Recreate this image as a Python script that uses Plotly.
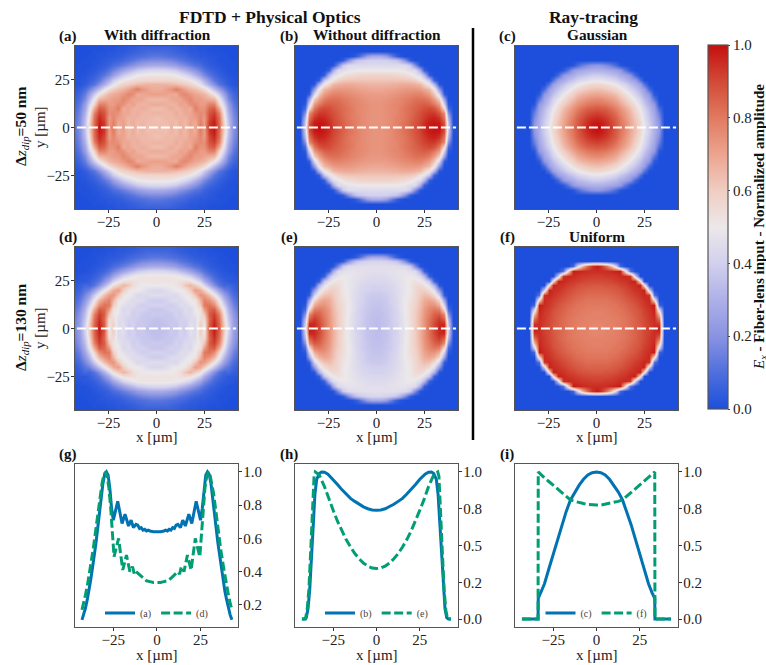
import plotly.graph_objects as go

W, H = 766, 665
FONT = "Liberation Serif"
BLUE, GREEN = "#0173b2", "#029e73"

grid_half = [2.5 * i for i in range(18)]
N = 18

# Quarter tables (percent of amplitude): rows y=0..42.5, columns x=0..42.5.
halo_rows = [
 [43,43,42,40,38,34,30,25,20,15,11,7,5,3,2,1,1,0],
 [28,28,27,25,23,20,17,14,11,9,6,4,3,2,1,1,1,0],
 [18,18,17,16,14,12,10,8,6,5,4,3,2,1,1,1,0,0],
 [12,12,11,10,9,8,7,5,4,3,3,2,2,1,1,0,0,0],
 [8,8,8,7,6,5,4,3,3,2,2,1,1,1,0,0,0,0],
 [5,5,5,5,4,3,3,2,2,1,1,1,0,0,0,0,0,0],
]
panel_a = [
 [64,64,63,66,64,68,65,71,68,80,72,94,99,84,58,36,20,12],
 [64,64,64,66,64,68,65,71,68,79,72,93,98,83,57,36,20,12],
 [63,64,65,65,66,67,66,70,71,77,72,90,96,82,54,34,19,11],
 [66,66,65,65,68,66,69,69,74,76,75,88,92,78,50,31,17,10],
 [64,64,66,68,66,67,70,68,79,74,74,84,86,68,46,27,15,9],
 [68,68,67,66,67,71,69,75,76,72,72,78,78,58,40,24,13,7],
 [65,65,66,69,70,69,74,77,72,72,70,68,66,50,32,18,10,6],
 [71,71,70,69,68,75,77,73,70,68,66,60,52,38,24,14,8,4],
 [68,68,71,74,79,75,70,66,64,60,56,46,34,24,15,9,5,3],
 [66,66,66,65,64,62,60,58,54,47,38,28,19,11,7,4,2,1],
 [57,57,57,57,56,55,53,50,45,38,29,20,12,8,5,3,2,1],
 [52,52,52,51,50,47,43,38,31,24,17,12,8,5,3,2,1,1],
] + halo_rows
panel_d = [
 [35,35,35,38,37,41,39,46,44,60,50,88,98,85,60,42,26,18],
 [35,35,36,38,37,41,39,46,44,59,51,86,97,84,59,41,25,17],
 [35,36,37,37,39,40,41,44,45,55,55,84,95,82,56,38,24,16],
 [38,38,37,38,41,39,44,44,48,52,62,86,92,78,52,35,22,14],
 [37,37,39,41,40,41,45,43,50,53,72,84,86,68,47,31,19,12],
 [41,41,40,39,41,45,44,47,50,60,80,82,76,58,40,27,16,10],
 [39,39,41,44,45,44,47,50,52,66,78,74,66,50,32,22,13,8],
 [45,45,44,44,43,47,50,52,62,74,72,64,52,38,24,17,10,6],
 [43,43,45,48,50,50,52,60,72,68,60,48,36,24,15,12,7,4],
 [50,50,50,50,52,54,62,66,60,54,42,30,19,11,7,8,5,3],
 [52,52,52,52,52,54,55,54,48,40,29,20,12,8,5,3,3,2],
 [52,52,52,52,51,49,45,41,33,26,18,13,8,5,3,3,2,1],
] + halo_rows
panel_b = [
 [74,74,75,76,78,80,82,85,88,92,95,98,100,99,90,40,1],
 [74,74,75,76,78,80,82,85,88,91,95,98,99,98,88,38,1],
 [74,74,75,76,78,79,81,84,87,90,93,96,97,94,82,32],
 [74,74,75,76,77,79,81,83,86,89,91,93,93,88,76,20],
 [74,74,75,76,77,79,81,83,85,87,89,90,88,80,55,8],
 [74,74,75,76,77,78,80,82,84,85,86,85,80,72,40,3],
 [73,73,74,75,76,77,79,80,82,82,82,79,72,60,25],
 [72,72,72,73,74,75,76,77,78,78,76,72,62,42,4],
 [69,69,70,70,71,72,73,73,73,72,69,65,52,22],
 [66,66,66,67,67,68,68,68,67,65,58,50,30,2],
 [62,62,62,62,62,62,62,61,59,52,47,36,5],
 [58,58,58,58,57,56,55,53,48,45,32,5],
 [50,50,50,50,50,49,48,45,44,28,5],
 [44,44,44,44,44,44,44,38,18,2],
 [40,40,40,38,36,30,18,4],
 [28,28,24,15,6,2],
]
panel_e = [
 [34,35,36,39,41,45,49,54,60,67,74,82,90,96,98,42,1],
 [34,35,36,39,41,45,49,54,60,67,74,82,90,96,96,40,1],
 [34,35,36,39,42,45,49,54,60,67,74,81,88,93,86,33],
 [35,35,37,39,42,45,50,54,60,66,73,79,85,87,76,20],
 [35,36,37,39,42,46,50,54,59,65,72,77,80,78,55,8],
 [36,36,38,40,43,46,50,54,58,64,70,74,74,68,40,3],
 [37,37,38,41,43,46,50,53,57,63,68,70,67,57,25],
 [38,38,39,41,44,46,49,52,56,61,64,63,56,40,4],
 [40,40,41,42,44,46,49,51,56,59,59,55,45,22],
 [41,41,42,43,45,47,49,51,55,56,53,46,30,2],
 [43,43,43,44,46,47,49,51,53,51,46,36,5],
 [44,44,45,46,47,48,49,50,48,44,32,5],
 [46,46,46,47,47,48,48,46,44,28,5],
 [46,46,46,46,46,45,44,38,18,2],
 [42,42,41,39,36,30,18,4],
 [28,28,24,15,6,2],
]
panel_c = [
 [100,99,96,92,87,82,76,70,63,56,48,39,30,22],
 [99,98,95,91,86,81,76,69,63,56,48,39,30,21],
 [96,95,93,89,85,80,74,68,61,54,46,37,29,18],
 [92,91,89,86,82,77,72,66,59,52,44,35,27,14],
 [87,86,85,82,78,74,69,63,56,49,41,33,25,8],
 [82,81,80,77,74,70,64,59,53,45,37,29,22,2],
 [76,76,74,72,69,64,60,54,48,41,33,26,12],
 [70,69,68,66,63,59,54,49,42,35,28,21,3],
 [63,63,61,59,56,53,48,42,36,30,24,8],
 [56,56,54,52,49,45,41,35,30,24,11],
 [48,48,46,44,41,37,33,28,24,11],
 [39,39,37,35,33,29,26,21,8],
 [30,30,29,27,25,22,12,3],
 [22,21,18,14,8,2],
]
panel_f = [
 [77,77,78,78,79,80,81,83,85,87,90,92,95,98],
 [77,77,78,78,79,80,81,83,85,87,90,92,95,94],
 [78,78,78,79,79,80,81,83,85,88,90,93,95,83],
 [78,78,79,79,80,81,82,84,86,88,91,93,96,65],
 [79,79,79,80,81,81,83,85,87,89,92,94,97,39],
 [80,80,80,81,81,83,84,86,88,91,93,95,98,7],
 [81,81,81,82,83,84,86,88,90,92,94,96,57],
 [83,83,83,84,85,86,88,90,92,94,96,94,11],
 [85,85,85,86,87,88,90,92,94,95,97,39],
 [87,87,88,88,89,91,92,94,95,97,54],
 [90,90,90,91,92,93,94,96,97,54],
 [92,92,93,93,94,95,96,94,39],
 [95,95,95,96,97,98,57,11],
 [98,94,83,65,39,7],
]

# Line cuts (right half; the curves are mirror images).
g_x = [0,2,4,5,6,7,8,9,10,11,12,13.5,14.8,16.3,18.3,20,22.5,25,26,27,28,29,30,31,32,33,34,35,36,37,38,39,40,41,42,43]
g_a = [.64,.64,.645,.65,.645,.655,.65,.665,.66,.68,.685,.665,.71,.675,.746,.69,.824,.71,.78,.9,.98,1,.985,.93,.85,.76,.66,.57,.49,.42,.35,.28,.23,.18,.14,.11]
gd_x = [0,2,4,6,8,10,12,13,14,15.5,17.5,19.6,22,24.6,25.5,26.5,27.5,28.5,29.5,30.5,31.5,32.5,33.5,34.5,35.5,36.5,38,39,40,41,42,43]
g_d = [.335,.335,.34,.345,.36,.38,.40,.385,.43,.40,.50,.41,.60,.49,.62,.78,.9,.97,1,.98,.93,.87,.79,.70,.62,.54,.44,.37,.31,.26,.21,.17]
h_x = [0,2.5,5,7.5,10,12.5,15,17.5,20,22.5,25,28,30,31.7,33,34.5,35.5,36.5,37.5,38.5,39.5,40.5,41.5,43]
h_b = [.74,.742,.75,.763,.78,.80,.82,.85,.88,.915,.95,.985,.998,1,.99,.95,.85,.65,.4,.2,.07,.01,0,0]
he_x = [0,2.5,5,7.5,10,12.5,15,17.5,20,22.5,25,27.5,30,33,35.3,36,37,38,39,40,41,43]
h_e = [.343,.347,.36,.38,.41,.445,.49,.54,.60,.665,.74,.815,.9,.98,1,.97,.75,.45,.2,.06,0,0]
i_x = [0,2.5,5,7.5,10,12.5,15,17.5,20,22.5,25,27.5,30,32,33.6,33.7,43]
i_c = [1,.995,.98,.95,.91,.865,.81,.73,.64,.54,.44,.34,.24,.18,.14,0,0]
i_f = [.775,.775,.78,.785,.79,.80,.81,.835,.86,.885,.91,.935,.96,.98,1,0,0]

tick_x = [-25, 0, 25]
colormap = [[0,"#1d4fdc"],[.1,"#4f6fdd"],[.2,"#8a93e2"],[.3,"#aeb0e8"],[.4,"#d2d0ee"],[.5,"#ece8ea"],
            [.6,"#f0cdc2"],[.7,"#eca48f"],[.8,"#e17a60"],[.9,"#d24a36"],[1,"#c40f0f"]]

def full_grid(rows):
    rows = [r + [0] * (N - len(r)) for r in rows] + [[0] * N] * (N - len(rows))
    mirrored = [r[:0:-1] + r for r in rows]
    return [[v / 100 for v in r] for r in mirrored[:0:-1] + mirrored]

def mirror(xs, ys):
    return [-v for v in xs[:0:-1]] + xs, ys[:0:-1] + ys

grid = [-v for v in grid_half[:0:-1]] + grid_half
fig = go.Figure()
layout = {}
ANN = []

def txt(x, y, s, size=15, angle=0, anchor="center", color="#111"):
    ANN.append(dict(x=x / W, y=1 - y / H, xref="paper", yref="paper", text=s, showarrow=False, textangle=angle,
                    xanchor=anchor, yanchor="middle", font=dict(family=FONT, size=size, color=color)))

def axes(idx, left, top, xr=(-42.5, 42.5), yr=(-42.5, 42.5), side="left", yticks=None, ytext=None):
    s = "" if idx == 1 else str(idx)
    base = dict(showgrid=False, zeroline=False, showline=True, mirror=True, linecolor="#555", linewidth=1.3,
                ticks="outside", ticklen=3, tickcolor="#333", tickfont=dict(family=FONT, size=15, color="#222"))
    layout["xaxis" + s] = dict(base, domain=[left / W, (left + 163) / W], range=list(xr), anchor="y" + s,
                               tickvals=tick_x, ticktext=["\u221225", "0", "25"], ticklabelstandoff=-4)
    y = dict(base, domain=[1 - (top + 163) / H, 1 - top / H], range=list(yr), anchor="x" + s, side=side,
             ticklabelstandoff=-2)
    if yticks is None:
        y.update(showticklabels=False, ticks="")
    else:
        y.update(tickvals=yticks, ticktext=ytext)
    layout["yaxis" + s] = y
    return "x" + s, "y" + s

maps = [(panel_a, 75, 46, True), (panel_b, 295, 46, False), (panel_c, 515, 46, False),
        (panel_d, 75, 247, True), (panel_e, 295, 247, False), (panel_f, 515, 247, False)]
for i, (table, left, top, yl) in enumerate(maps, 1):
    xa, ya = axes(i, left, top, yticks=tick_x if yl else None, ytext=["\u221225", "0", "25"] if yl else None)
    fig.add_trace(go.Heatmap(x=grid, y=grid, z=full_grid(table), coloraxis="coloraxis", zsmooth="best",
                             xaxis=xa, yaxis=ya, showlegend=False))
    fig.add_trace(go.Scatter(x=[-41.5, 41.5], y=[0, 0], mode="lines", xaxis=xa, yaxis=ya, showlegend=False,
                             line=dict(color="white", width=2, dash="9px,3px")))

lines = [
 (7, 75, (g_x, g_a), (gd_x, g_d), "(a)", "(d)", (-47, 46.5), (.067, 1.048), [.2, .4, .6, .8, 1], ["0.2", "0.4", "0.6", "0.8", "1.0"], "legend"),
 (8, 295, (h_x, h_b), (he_x, h_e), "(b)", "(e)", (-47, 47), (-.054, 1.054), [0, .25, .5, .75, 1], ["0.0", "0.2", "0.5", "0.8", "1.0"], "legend2"),
 (9, 515, (i_x, i_c), (i_x, i_f), "(c)", "(f)", (-47, 47), (-.054, 1.054), [0, .25, .5, .75, 1], ["0.0", "0.2", "0.5", "0.8", "1.0"], "legend3"),
]
for idx, left, s1, s2, n1, n2, xr, yr, yt, ytt, leg in lines:
    xa, ya = axes(idx, left, 464, xr=xr, yr=yr, side="right", yticks=yt, ytext=ytt)
    x1, y1 = mirror(*s1)
    x2, y2 = mirror(*s2)
    fig.add_trace(go.Scatter(x=x1, y=y1, name=n1, mode="lines", xaxis=xa, yaxis=ya, legend=leg,
                             line=dict(color=BLUE, width=3)))
    fig.add_trace(go.Scatter(x=x2, y=y2, name=n2, mode="lines", xaxis=xa, yaxis=ya, legend=leg,
                             line=dict(color=GREEN, width=3, dash="9px,3.5px")))
    layout[leg] = dict(orientation="h", x=(left + 81.5) / W, xanchor="center", y=1 - 613 / H, yanchor="middle",
                       bgcolor="rgba(0,0,0,0)", font=dict(family=FONT, size=10, color="#444"),
                       itemwidth=30, tracegroupgap=0, traceorder="normal")

txt(269.5, 17, "<b>FDTD + Physical Optics</b>", 17.5)
txt(593, 17, "<b>Ray-tracing</b>", 17.4)
txt(157, 35, "<b>With diffraction</b>", 15.3)
txt(377, 35, "<b>Without diffraction</b>", 15.3)
txt(597, 35, "<b>Gaussian</b>", 15.3)
txt(597, 236, "<b>Uniform</b>", 15.3)
for s, x, y in [("a", 68, 36), ("b", 289, 36), ("c", 507, 36), ("d", 68, 237), ("e", 289, 237), ("f", 507, 237),
                ("g", 68, 454), ("h", 289, 454), ("i", 507, 454)]:
    txt(x, y, f"<b>({s})</b>", 15)
txt(21, 127, "<b>\u0394</b><i>z<sub>dip</sub></i><b>=50 nm</b>", 15.5, -90)
txt(21, 328, "<b>\u0394</b><i>z<sub>dip</sub></i><b>=130 nm</b>", 15.5, -90)
txt(40, 127, "y [\u00b5m]", 15, -90, color="#222")
txt(40, 328, "y [\u00b5m]", 15, -90, color="#222")
for cx in (157, 377, 597):
    txt(cx, 437, "x [\u00b5m]", 15, color="#222")
for cx in (157, 377, 597):
    txt(cx, 655, "x [\u00b5m]", 15, color="#222")
txt(760, 227, "<i>E<sub>x</sub></i> <b>- Fiber-lens input - Normalized amplitude</b>", 15, -90)

fig.update_layout(
    width=W, height=H, autosize=False, margin=dict(l=0, r=0, t=0, b=0), paper_bgcolor="white", plot_bgcolor="white",
    annotations=ANN,
    shapes=[dict(type="line", xref="paper", yref="paper", x0=473 / W, x1=473 / W, y0=1 - 28 / H, y1=1 - 440 / H,
                 line=dict(color="black", width=2.5))],
    coloraxis=dict(cmin=0, cmax=1, colorscale=colormap, colorbar=dict(
        x=708 / W, xanchor="left", xpad=0, y=1 - 227 / H, yanchor="middle", ypad=0, lenmode="pixels", len=364,
        thicknessmode="pixels", thickness=20, outlinecolor="#555", outlinewidth=1.2, ticks="outside", ticklen=2,
        tickvals=[0, .2, .4, .6, .8, 1], ticktext=["0.0", "0.2", "0.4", "0.6", "0.8", "1.0"],
        tickfont=dict(family=FONT, size=15, color="#222"))),
    **layout)
fig.write_html("out.html", config=dict(displayModeBar=False),
               post_script="document.body.style.margin='0';document.documentElement.style.overflow='hidden';")
